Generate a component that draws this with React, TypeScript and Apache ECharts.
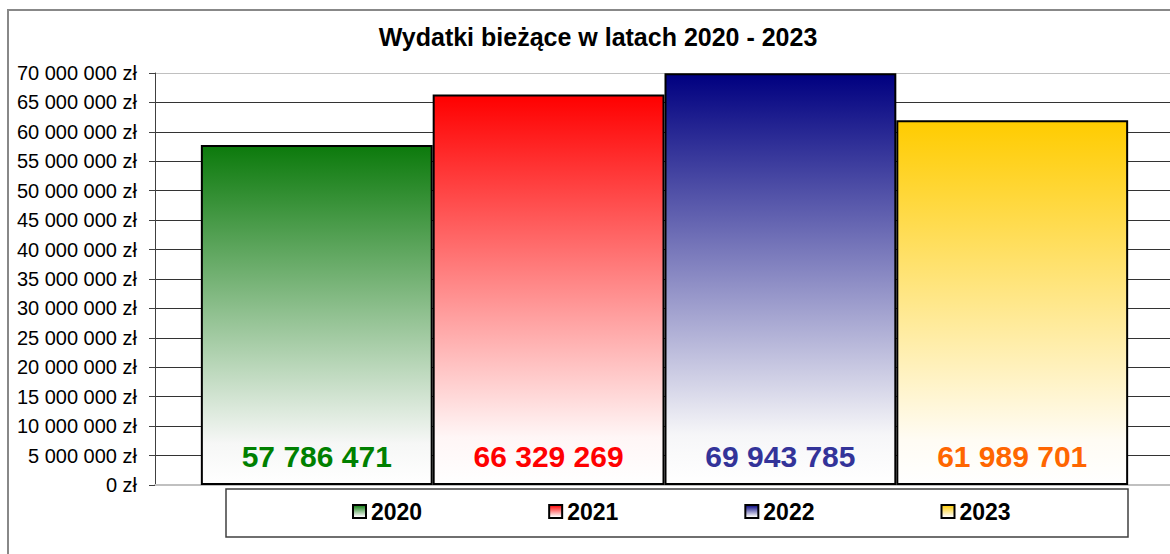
import React, { useEffect, useRef } from "react";
import * as echarts from "echarts";

const years = ["2020", "2021", "2022", "2023"];
const values = [57786471, 66329269, 69943785, 61989701];
const topColors = ["#0c7a0c", "#ff0000", "#000080", "#ffcc00"];
const bottomColors = ["#f6f7f6", "#fff6f6", "#f6f6f8", "#fffcf4"];
const labelColors = ["#008000", "#ff0000", "#333399", "#ff6600"];
const yMax = 70000000;
const yStep = 5000000;
const titleText = "Wydatki bieżące w latach 2020 - 2023";

const FONT = "'Liberation Sans', Arial, sans-serif";

function fmt(n: number): string {
  return String(Math.round(n)).replace(/\B(?=(\d{3})+(?!\d))/g, " ");
}

export default function App() {
  const ref = useRef<HTMLDivElement>(null);
  useEffect(() => {
    document.body.style.margin = "0";
    if (!ref.current) return;
    const chart = echarts.init(ref.current, undefined, { renderer: "svg" });
    const nLines = yMax / yStep + 1;
    const splitColors: string[] = [];
    for (let i = 0; i < nLines; i++) {
      splitColors.push(i === 0 || i === nLines - 1 ? "#c0c0c0" : "#333333");
    }
    const series = years.map((y, i) => ({
      type: "bar",
      name: y,
      data: [values[i]],
      barGap: "0%",
      barCategoryGap: "9%",
      itemStyle: {
        color: new echarts.graphic.LinearGradient(0, 0, 0, 1, [
          { offset: 0, color: topColors[i] },
          { offset: 0.88, color: bottomColors[i] },
          { offset: 1, color: "#ffffff" },
        ]),
        borderColor: "#000000",
        borderWidth: 2,
      },
      label: {
        show: true,
        position: "insideBottom",
        distance: 14,
        formatter: (p: any) => fmt(p.value),
        fontFamily: FONT,
        fontSize: 30,
        fontWeight: "bold",
        color: labelColors[i],
      },
    }));
    chart.setOption({
      animation: false,
      backgroundColor: "#ffffff",
      title: {
        text: titleText,
        left: 598,
        top: 24,
        textAlign: "center",
        padding: 0,
        textStyle: { fontFamily: FONT, fontSize: 25, fontWeight: "bold", color: "#000" },
      },
      grid: { left: 155, top: 73, width: 1019, height: 412, outerBoundsMode: "none", containLabel: false },
      xAxis: {
        type: "category",
        data: [""],
        axisLine: { show: true, lineStyle: { color: "#c0c0c0", width: 2 } },
        axisTick: { show: false },
        axisLabel: { show: false },
        splitLine: { show: false },
      },
      yAxis: {
        type: "value",
        min: 0,
        max: yMax,
        interval: yStep,
        axisLine: { show: true, lineStyle: { color: "#404040", width: 1 } },
        axisTick: { show: true, length: 6, lineStyle: { color: "#404040" } },
        axisLabel: {
          margin: 18,
          fontFamily: FONT,
          fontSize: 20,
          color: "#000",
          formatter: (v: number) => fmt(v) + " zł",
        },
        splitLine: { show: true, lineStyle: { color: splitColors, width: 1 } },
      },
      legend: {
        data: years,
        left: 352,
        top: 500,
        icon: "rect",
        itemWidth: 13,
        itemHeight: 13,
        itemGap: 126,
        padding: 0,
        textStyle: { fontFamily: FONT, fontSize: 23, fontWeight: "bold", color: "#000" },
      },
      graphic: [
        {
          type: "rect",
          shape: { x: 8, y: 10, width: 1200, height: 600 },
          style: { fill: "none", stroke: "#888888", lineWidth: 2 },
          z: 0,
        },
        {
          type: "rect",
          shape: { x: 226, y: 489, width: 902, height: 48 },
          style: { fill: "#ffffff", stroke: "#404040", lineWidth: 1.5 },
          z: 0,
        },
      ],
      series,
    });
    return () => chart.dispose();
  }, []);
  return <div ref={ref} style={{ width: 1170, height: 554 }} />;
}
